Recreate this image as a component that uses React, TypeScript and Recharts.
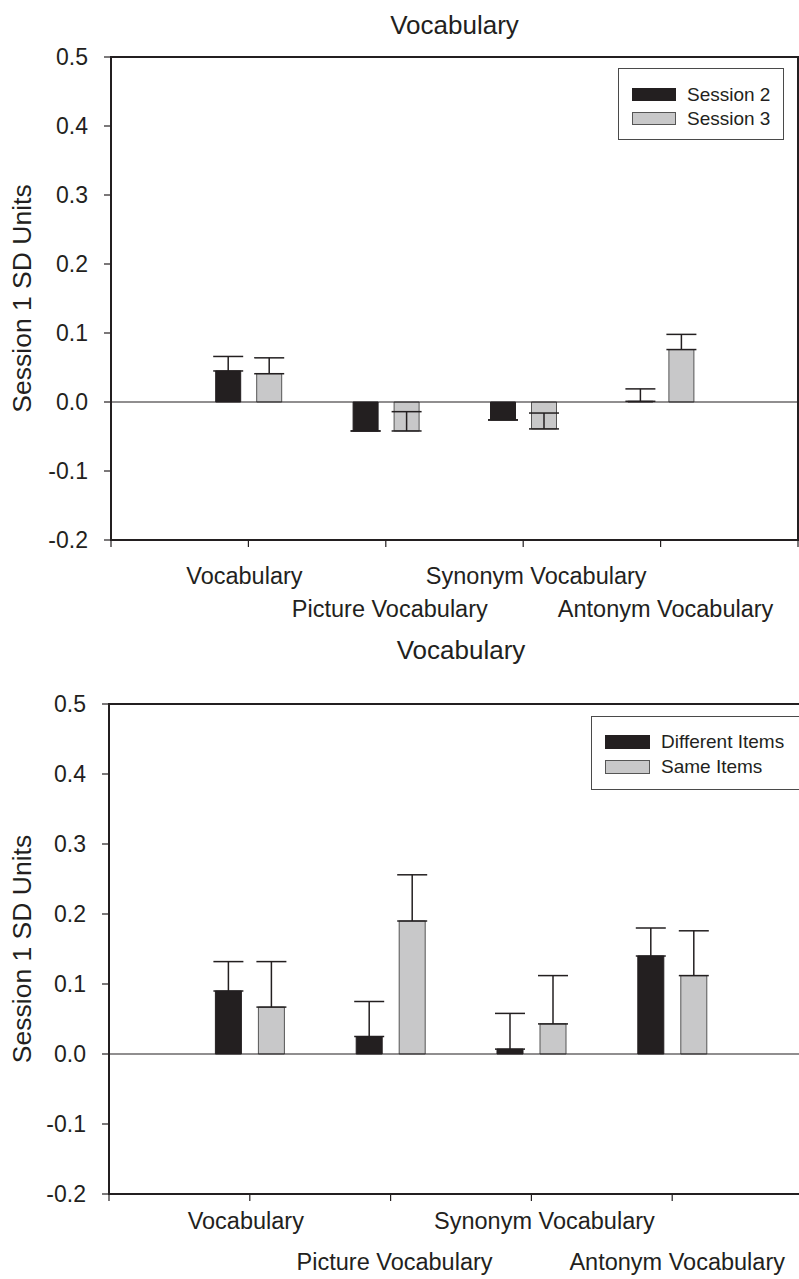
import React from 'react';
import { BarChart, Bar, XAxis, YAxis, ErrorBar, ReferenceLine, ReferenceArea, Legend, Label } from 'recharts';

// ---------- data ----------
const categories = ['Vocabulary', 'Picture Vocabulary', 'Synonym Vocabulary', 'Antonym Vocabulary'];
const categoryPositions = [1, 2, 3, 4];
const xTicks = [0, 1, 2, 3, 4, 5];
const yTicks = [-0.2, -0.1, 0, 0.1, 0.2, 0.3, 0.4, 0.5];
const chartTitle = 'Vocabulary';
const yAxisTitle = 'Session 1 SD Units';

const topSeriesNames = ['Session 2', 'Session 3'];
const session2 = [0.045, -0.042, -0.026, 0.001];
const session2Err = [0.021, 0, 0, 0.018];
const session3 = [0.041, -0.042, -0.039, 0.076];
const session3Err = [0.023, 0.028, 0.023, 0.022];

const bottomSeriesNames = ['Different Items', 'Same Items'];
const differentItems = [0.09, 0.025, 0.007, 0.14];
const differentItemsErr = [0.042, 0.05, 0.051, 0.04];
const sameItems = [0.067, 0.19, 0.043, 0.112];
const sameItemsErr = [0.065, 0.066, 0.069, 0.064];

// ---------- style ----------
const FONT = '"Liberation Sans", Arial, Helvetica, sans-serif';
const INK = '#231f20';
const BLACK_FILL = '#231f20';
const GRAY_FILL = '#c8c8c9';
const GRAY_STROKE = '#555555';
const LEGEND_BORDER = '#4a4a4a';
const labelDx = [-4, 4, 13, 5];

const buildData = (a: number[], aErr: number[], b: number[], bErr: number[]) =>
  categories.map((name, i) => ({
    pos: categoryPositions[i],
    name,
    a: a[i],
    aErr: [0, aErr[i]],
    b: b[i],
    bErr: [0, bErr[i]],
  }));

const topData = buildData(session2, session2Err, session3, session3Err);
const bottomData = buildData(differentItems, differentItemsErr, sameItems, sameItemsErr);

const makeXTick = (row1: number, row2: number) => (props: any) => {
  const { x, y, payload } = props;
  const idx = categoryPositions.indexOf(payload.value);
  if (idx < 0) return <g />;
  const dy = idx % 2 === 0 ? row1 : row2;
  return (
    <text
      x={x + labelDx[idx]}
      y={y + dy}
      textAnchor="middle"
      dominantBaseline="central"
      fontFamily={FONT}
      fontSize={23.5}
      fill={INK}
    >
      {categories[idx]}
    </text>
  );
};

const makeFrameLabel = (titleGap: number, yLabelX: number) => (props: any) => {
  const vb = props.viewBox || {};
  const cx = vb.x + vb.width / 2;
  const cy = vb.y + vb.height / 2;
  return (
    <g>
      <text x={cx} y={vb.y - titleGap} textAnchor="middle" fontFamily={FONT} fontSize={26} fill={INK}>
        {chartTitle}
      </text>
      <text
        x={yLabelX}
        y={cy}
        textAnchor="middle"
        dominantBaseline="central"
        transform={`rotate(-90, ${yLabelX}, ${cy})`}
        fontFamily={FONT}
        fontSize={26.5}
        fill={INK}
      >
        {yAxisTitle}
      </text>
    </g>
  );
};

const makeLegend = (box: { swW: number; swH: number; rowH: number; padL: number; padT: number; gap: number; w: number; h: number; openRight?: boolean }) => (props: any) => {
  const payload = props.payload || [];
  return (
    <div
      style={{
        width: box.w,
        height: box.h,
        borderTop: `1.5px solid ${LEGEND_BORDER}`,
        borderBottom: `1.5px solid ${LEGEND_BORDER}`,
        borderLeft: `1.5px solid ${LEGEND_BORDER}`,
        borderRight: box.openRight ? '0px none transparent' : `1.5px solid ${LEGEND_BORDER}`,
        boxSizing: 'border-box',
        background: '#fff',
        paddingLeft: box.padL,
        paddingTop: box.padT,
        fontFamily: FONT,
      }}
    >
      {payload.map((p: any, i: number) => (
        <div key={i} style={{ display: 'flex', alignItems: 'center', height: box.rowH, whiteSpace: 'nowrap' }}>
          <div
            style={{
              width: box.swW,
              height: box.swH,
              flexShrink: 0,
              background: i === 0 ? BLACK_FILL : GRAY_FILL,
              border: `1px solid ${i === 0 ? BLACK_FILL : GRAY_STROKE}`,
              boxSizing: 'border-box',
              marginRight: box.gap,
            }}
          />
          <span style={{ fontSize: 19, color: INK, lineHeight: 1 }}>{p.value}</span>
        </div>
      ))}
    </div>
  );
};

type PanelProps = {
  data: any[];
  names: string[];
  width: number;
  height: number;
  margin: { top: number; right: number; bottom: number; left: number };
  yAxisWidth: number;
  barSize: number;
  barGap: number;
  xRow1: number;
  xRow2: number;
  titleGap: number;
  yLabelX: number;
  legendPos: { left: number; top: number; width: number };
  legendBox: any;
};

const Panel = (p: PanelProps) => (
  <BarChart
    width={p.width}
    height={p.height}
    data={p.data}
    margin={p.margin}
    barGap={p.barGap}
    style={{ fontFamily: FONT }}
  >
    <XAxis
      dataKey="pos"
      type="number"
      domain={[0, 5]}
      ticks={xTicks}
      interval={0}
      height={60}
      tickSize={7}
      tickMargin={0}
      axisLine={{ stroke: INK, strokeWidth: 2 }}
      tickLine={{ stroke: INK, strokeWidth: 1.2 }}
      tick={makeXTick(p.xRow1, p.xRow2)}
      allowDecimals={false}
    />
    <YAxis
      type="number"
      domain={[-0.2, 0.5]}
      ticks={yTicks}
      interval={0}
      width={p.yAxisWidth}
      tickSize={7}
      tickMargin={16}
      axisLine={{ stroke: INK, strokeWidth: 2 }}
      tickLine={{ stroke: INK, strokeWidth: 1.2 }}
      tick={{ fill: INK, fontSize: 23, fontFamily: FONT }}
      tickFormatter={(v: number) => v.toFixed(1)}
      allowDataOverflow
    />
    <ReferenceArea
      x1={0}
      x2={5}
      y1={-0.2}
      y2={0.5}
      fill="none"
      fillOpacity={0}
      stroke={INK}
      strokeWidth={2}
      ifOverflow="visible"
    >
      <Label content={makeFrameLabel(p.titleGap, p.yLabelX)} />
    </ReferenceArea>
    <ReferenceLine y={0} stroke={INK} strokeWidth={1.2} ifOverflow="visible" />
    <Legend
      layout="vertical"
      align="center"
      verticalAlign="middle"
      wrapperStyle={{ left: p.legendPos.left, top: p.legendPos.top, width: p.legendPos.width, height: 'auto' }}
      content={makeLegend(p.legendBox)}
    />
    <Bar dataKey="a" name={p.names[0]} fill={BLACK_FILL} stroke={BLACK_FILL} strokeWidth={1} barSize={p.barSize} isAnimationActive={false}>
      <ErrorBar dataKey="aErr" direction="y" width={15} stroke={INK} strokeWidth={1.5} isAnimationActive={false} />
    </Bar>
    <Bar dataKey="b" name={p.names[1]} fill={GRAY_FILL} stroke={GRAY_STROKE} strokeWidth={1} barSize={p.barSize} isAnimationActive={false}>
      <ErrorBar dataKey="bErr" direction="y" width={15} stroke={INK} strokeWidth={1.5} isAnimationActive={false} />
    </Bar>
  </BarChart>
);

export default function App() {
  return (
    <div
      style={{
        position: 'absolute',
        left: 0,
        top: 0,
        width: 799,
        height: 1279,
        overflow: 'hidden',
        background: '#ffffff',
      }}
    >
      <div style={{ position: 'absolute', left: 0, top: 0 }}>
        <Panel
          data={topData}
          names={topSeriesNames}
          width={799}
          height={630}
          margin={{ top: 57, right: 1, bottom: 30, left: 0 }}
          yAxisWidth={111}
          barSize={25}
          barGap={16}
          xRow1={29}
          xRow2={62}
          titleGap={23}
          yLabelX={22}
          legendPos={{ left: 618, top: 68, width: 166 }}
          legendBox={{ swW: 44, swH: 13, rowH: 24, padL: 13, padT: 13, gap: 11, w: 166, h: 72 }}
        />
      </div>
      <div style={{ position: 'absolute', left: 0, top: 630 }}>
        <Panel
          data={bottomData}
          names={bottomSeriesNames}
          width={814}
          height={649}
          margin={{ top: 74, right: 1, bottom: 25, left: 0 }}
          yAxisWidth={109}
          barSize={26}
          barGap={17}
          xRow1={20}
          xRow2={61}
          titleGap={45}
          yLabelX={22}
          legendPos={{ left: 591, top: 86, width: 400 }}
          legendBox={{ swW: 45, swH: 14, rowH: 25, padL: 13, padT: 12, gap: 11, w: 400, h: 74, openRight: true }}
        />
      </div>
    </div>
  );
}
